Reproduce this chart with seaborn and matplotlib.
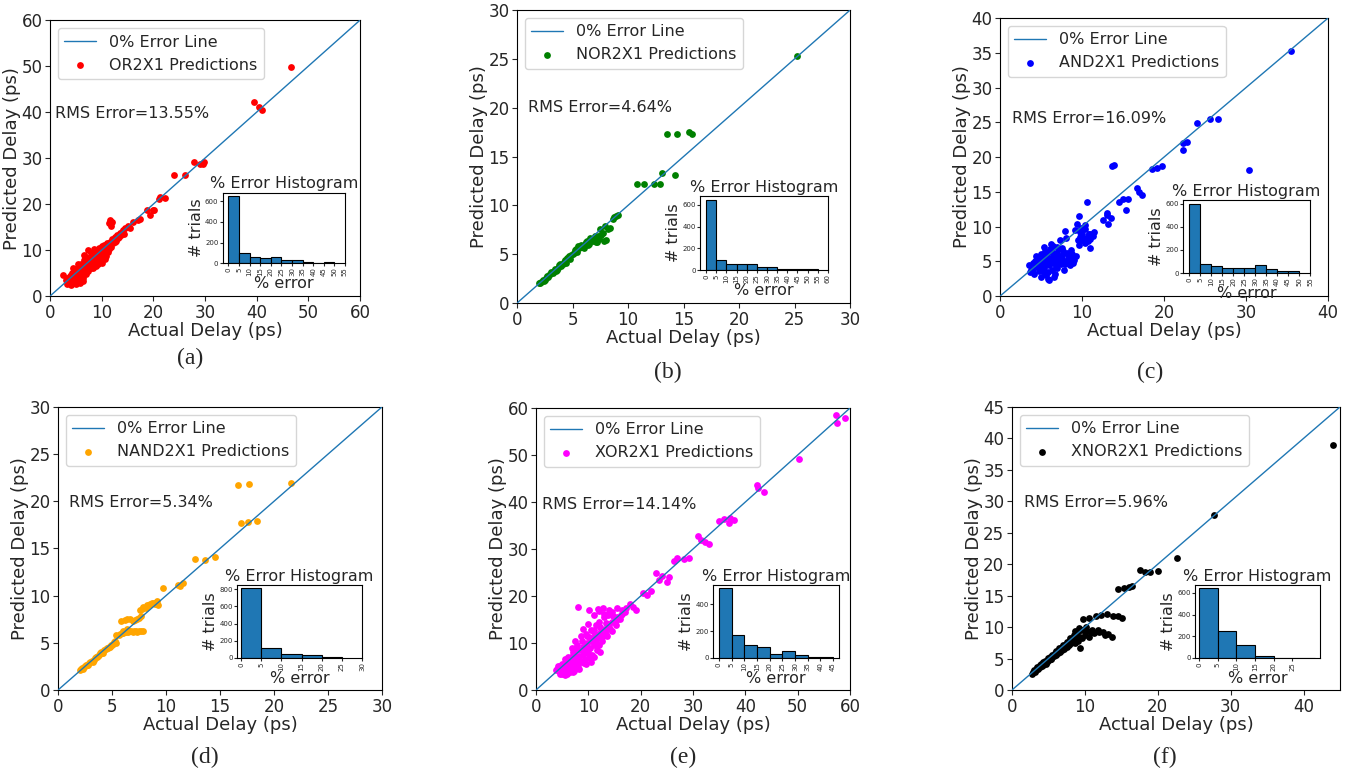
import numpy as np
import pandas as pd
import matplotlib
matplotlib.use("Agg")
import matplotlib.pyplot as plt
import seaborn as sns

sns.set_style("ticks")
plt.rcParams['font.family'] = ['DejaVu Sans']
plt.rcParams['axes.edgecolor'] = 'black'

# --- data ---
cells = ['OR2X1', 'NOR2X1', 'AND2X1', 'NAND2X1', 'XOR2X1', 'XNOR2X1']
panel_tags = ['(a)', '(b)', '(c)', '(d)', '(e)', '(f)']
point_colors = ['red', 'green', 'blue', 'orange', 'magenta', 'black']
rms_err = ['13.55', '4.64', '16.09', '5.34', '14.14', '5.96']
axis_max = [60, 30, 40, 30, 60, 45]
main_xticks = [range(0, 61, 10), range(0, 31, 5), range(0, 41, 10),
               range(0, 31, 5), range(0, 61, 10), range(0, 41, 10)]
main_yticks = [range(0, 61, 10), range(0, 31, 5), range(0, 41, 5),
               range(0, 31, 5), range(0, 61, 10), range(0, 46, 5)]

# (actual, predicted) delay in ps
or2x1_pts = [(2.6, 4.6), (3.0, 3.4), (3.2, 4.0), (3.5, 2.9), (3.8, 4.4), (4.0, 3.2), (4.2, 5.0), (4.4, 2.8),
             (4.5, 4.0), (4.8, 3.5), (5.0, 5.5), (5.0, 2.6), (5.3, 4.6), (5.5, 6.2), (5.6, 3.8), (5.8, 5.2),
             (6.0, 7.0), (6.0, 4.5), (6.3, 6.0), (6.5, 5.0), (6.6, 7.8), (6.8, 6.5), (7.0, 4.8), (7.0, 8.5),
             (7.2, 7.2), (7.4, 10.0), (7.5, 6.0), (7.8, 8.0), (8.0, 9.3), (8.0, 6.8), (8.3, 7.5), (8.5, 8.8),
             (8.6, 10.2), (8.8, 6.5), (9.0, 9.0), (9.2, 7.8), (9.4, 10.5), (9.5, 8.5), (9.8, 9.6), (10.0, 7.2),
             (10.0, 10.8), (10.3, 9.2), (10.5, 11.0), (10.6, 8.0), (10.8, 10.2), (11.0, 11.5), (11.2, 9.5),
             (11.5, 11.2), (11.8, 10.6), (12.0, 12.4), (12.2, 11.5), (12.5, 12.8), (12.8, 12.0), (13.0, 13.3),
             (13.3, 12.8), (13.6, 13.8), (14.0, 14.0), (14.3, 13.6), (14.6, 14.8), (15.0, 15.2), (15.5, 14.9),
             (16.0, 16.2), (4.5, 6.0), (5.5, 7.0), (6.5, 9.0), (3.6, 3.6), (4.2, 3.8), (5.4, 5.0), (6.2, 5.6),
             (7.6, 7.0), (8.8, 8.2), (9.6, 9.0), (3.3, 2.6), (3.7, 3.2), (4.1, 4.6), (4.6, 3.0), (4.9, 4.3),
             (5.2, 3.3), (5.7, 4.4), (5.9, 6.6), (6.1, 5.3), (6.4, 4.0), (6.7, 5.6), (6.9, 7.2), (7.1, 6.2),
             (7.3, 5.4), (7.7, 7.4), (7.9, 6.2), (8.1, 8.4), (8.4, 6.0), (8.7, 7.8), (8.9, 9.6), (9.1, 8.2),
             (9.3, 7.0), (9.7, 8.0), (9.9, 10.2), (10.2, 8.6), (10.4, 10.0), (10.7, 9.4), (10.9, 8.8),
             (11.1, 10.8), (11.4, 10.2), (11.7, 11.8), (12.3, 12.0), (12.6, 11.8), (13.1, 12.7), (13.8, 13.2),
             (14.2, 14.4), (5.8, 2.9), (6.3, 3.3), (4.0, 2.5), (4.7, 5.6),
             (11.6, 16.5), (11.4, 15.8), (11.8, 15.2), (12.0, 16.0),
             (17.0, 16.5), (17.5, 16.8), (18.7, 18.7), (19.3, 17.6), (19.9, 18.7), (20.2, 18.8), (21.3, 21.6),
             (22.2, 21.3), (21.0, 21.2), (24.0, 26.3), (26.1, 26.3), (27.9, 29.2), (29.0, 28.8), (29.8, 29.2),
             (29.6, 28.7), (39.5, 42.1), (40.4, 41.2), (41.0, 40.4), (46.6, 49.8)]
nor2x1_pts = [(2.0, 2.1), (2.2, 2.2), (2.4, 2.3), (2.6, 2.6), (2.8, 2.7), (3.0, 3.0), (3.2, 3.1), (3.4, 3.5),
              (3.6, 3.4), (3.8, 3.9), (4.0, 3.8), (4.2, 4.2), (4.4, 4.1), (4.6, 4.6), (4.8, 4.5), (5.0, 5.0),
              (5.2, 5.4), (5.4, 5.2), (5.6, 5.6), (5.8, 5.9), (6.0, 5.6), (6.2, 6.2), (6.4, 5.9), (6.6, 6.7),
              (6.8, 6.4), (7.0, 6.9), (7.2, 6.2), (7.4, 6.6), (7.6, 7.0), (7.8, 6.4), (7.5, 7.6), (7.9, 7.9),
              (8.2, 7.6), (8.7, 8.8), (9.1, 9.0), (8.9, 8.9), (4.5, 4.6), (5.5, 5.8), (3.5, 3.3), (6.5, 6.3),
              (7.1, 6.2), (2.1, 2.0), (2.3, 2.4), (2.5, 2.4), (2.7, 2.8), (2.9, 2.9), (3.1, 3.2), (3.3, 3.3),
              (3.7, 3.6), (3.9, 4.0), (4.1, 4.0), (4.3, 4.4), (4.7, 4.8), (4.9, 4.9), (5.1, 5.1), (5.3, 5.5),
              (5.7, 5.7), (5.9, 5.7), (6.1, 6.0), (6.3, 6.4), (6.5, 6.0), (6.7, 6.5), (6.9, 6.6), (7.3, 6.9),
              (7.7, 7.2), (8.0, 6.5), (8.4, 7.7), (8.6, 8.6),
              (10.8, 12.2), (11.4, 12.2), (12.3, 12.2), (12.9, 12.2), (13.1, 13.3), (14.2, 13.1),
              (13.5, 17.3), (14.4, 17.3), (15.5, 17.5), (15.8, 17.3), (25.2, 25.3)]
and2x1_pts = [(3.5, 4.5), (3.8, 3.8), (4.0, 4.8), (4.2, 3.2), (4.5, 5.5), (4.6, 4.2), (4.8, 3.6), (5.0, 6.0),
              (5.0, 2.8), (5.2, 5.0), (5.4, 4.0), (5.5, 6.5), (5.6, 3.0), (5.8, 5.5), (6.0, 2.3), (6.0, 4.5),
              (6.1, 6.8), (6.3, 3.8), (6.4, 5.8), (6.5, 4.8), (6.7, 3.2), (6.8, 6.2), (7.0, 5.2), (7.0, 4.0),
              (7.2, 6.8), (7.4, 4.6), (7.5, 5.8), (7.8, 3.8), (8.0, 5.0), (8.2, 6.2), (8.5, 4.5), (8.6, 5.6),
              (8.8, 6.0), (9.0, 5.2), (5.3, 5.5), (6.2, 7.5), (7.3, 8.1), (8.1, 8.3), (7.5, 6.9), (8.3, 6.0),
              (9.5, 8.1), (9.6, 7.3), (10.2, 8.0), (10.5, 8.4), (11.0, 8.2), (11.0, 6.9), (10.0, 9.0), (9.2, 9.5),
              (9.8, 9.2), (10.4, 9.6), (11.2, 9.0), (9.4, 10.3), (9.6, 11.5), (10.6, 13.6), (7.0, 6.0), (6.5, 7.2),
              (3.6, 3.4), (4.0, 3.9), (4.3, 5.0), (4.7, 4.6), (4.9, 5.2), (5.1, 4.3), (5.3, 3.5), (5.6, 4.8),
              (5.7, 6.0), (5.9, 3.5), (6.1, 5.2), (6.3, 6.3), (6.6, 5.5), (6.8, 4.2), (6.9, 7.0), (7.1, 4.8),
              (7.3, 5.8), (7.6, 5.2), (7.7, 6.5), (7.9, 4.6), (8.4, 5.4), (8.7, 6.6), (8.9, 4.8), (9.3, 5.8),
              (9.7, 8.5), (10.0, 8.0), (10.3, 7.6), (10.7, 7.9), (10.9, 9.0), (11.3, 8.6), (11.5, 9.2),
              (9.9, 9.8), (10.3, 10.2), (10.8, 8.9), (6.6, 2.8), (5.8, 2.5), (5.4, 7.0), (4.4, 5.8), (7.9, 9.4),
              (8.3, 5.3),
              (12.6, 11.0), (13.0, 11.7), (13.2, 10.3), (13.5, 11.2), (13.0, 12.0), (15.0, 13.9), (15.4, 12.4),
              (14.5, 13.6), (15.6, 14.0), (16.7, 15.5), (17.3, 14.6), (17.0, 15.0), (13.7, 18.7), (13.9, 18.9),
              (18.5, 18.3), (19.1, 18.4), (19.7, 18.7), (22.3, 22.0), (22.8, 22.1), (22.3, 21.0), (24.0, 24.9),
              (25.6, 25.5), (26.6, 25.5), (30.4, 18.1), (35.5, 35.3)]
nand2x1_pts = [(2.0, 2.1), (2.2, 2.3), (2.4, 2.4), (2.6, 2.6), (2.8, 2.7), (3.0, 3.0), (3.2, 3.0), (3.4, 3.4),
               (3.6, 3.5), (3.8, 3.7), (4.0, 4.0), (4.2, 3.9), (4.4, 4.3), (4.6, 4.4), (4.8, 4.6), (5.0, 4.8),
               (5.2, 5.1), (5.4, 5.0), (5.4, 5.8), (5.7, 5.9), (6.0, 6.0), (6.3, 6.1), (6.6, 6.2), (6.9, 6.1),
               (7.2, 6.2), (7.5, 6.3), (7.9, 6.2), (6.0, 6.3), (6.4, 6.5), (5.8, 7.3), (6.2, 7.4), (6.7, 7.5),
               (7.1, 7.4), (7.5, 7.6), (7.7, 7.8), (7.6, 8.5), (7.9, 8.8), (8.2, 9.0), (8.5, 9.1), (8.9, 9.2),
               (9.2, 9.4), (9.3, 9.0), (2.1, 2.2), (2.3, 2.2), (2.5, 2.5), (2.7, 2.6), (2.9, 2.9), (3.1, 3.1),
               (3.3, 3.2), (3.5, 3.5), (3.7, 3.6), (3.9, 3.9), (4.1, 3.9), (4.3, 4.2), (4.5, 4.4), (4.7, 4.6),
               (4.9, 4.8), (5.1, 4.9), (5.3, 5.2), (5.6, 5.8), (5.9, 6.0), (6.1, 6.1), (6.5, 6.1), (6.8, 6.2),
               (7.0, 6.3), (7.3, 6.1), (7.7, 6.2), (6.4, 7.5), (6.9, 7.3), (7.3, 7.5), (7.8, 8.6), (8.1, 8.7),
               (8.4, 9.0), (8.7, 9.2), (9.0, 9.1),
               (9.7, 10.8), (11.1, 11.1), (11.6, 11.3), (11.3, 11.0), (12.7, 13.9),
               (13.6, 13.8), (14.5, 14.1), (16.9, 17.7), (17.6, 17.8), (18.4, 17.9), (16.7, 21.7), (17.7, 21.8),
               (21.6, 21.9)]
xor2x1_pts = [(4.0, 4.5), (4.5, 3.5), (5.0, 5.5), (5.2, 4.2), (5.5, 6.5), (5.8, 3.8), (6.0, 5.0), (6.2, 7.0),
              (6.5, 4.5), (6.8, 6.0), (7.0, 8.0), (7.2, 5.2), (7.5, 7.0), (7.8, 9.5), (8.0, 4.8), (8.2, 6.5),
              (8.5, 8.5), (8.8, 10.5), (9.0, 7.5), (9.2, 5.8), (9.5, 9.5), (9.8, 11.5), (10.0, 8.5), (10.2, 6.8),
              (10.5, 10.5), (10.8, 12.5), (11.0, 9.5), (11.3, 11.5), (11.6, 8.5), (12.0, 12.0), (12.3, 13.5),
              (12.6, 10.5), (13.0, 12.5), (13.3, 14.2), (13.6, 11.5), (14.0, 13.5), (14.5, 12.5), (15.0, 14.5),
              (15.4, 15.6), (16.0, 15.0), (16.5, 16.2), (9.0, 13.0), (10.0, 14.0), (11.0, 12.8), (5.5, 3.2),
              (6.5, 3.8), (7.2, 4.0), (4.5, 5.0), (3.8, 4.2), (4.2, 5.2), (4.8, 4.0), (5.3, 5.0), (5.6, 4.6),
              (5.9, 6.0), (6.3, 5.5), (6.6, 6.8), (6.9, 4.8), (7.1, 7.5), (7.4, 6.2), (7.7, 5.5), (7.9, 8.5),
              (8.3, 7.2), (8.6, 6.0), (8.9, 9.2), (9.1, 8.2), (9.4, 6.5), (9.7, 10.0), (9.9, 7.8), (10.1, 11.2),
              (10.4, 9.0), (10.7, 7.5), (10.9, 10.8), (11.2, 12.0), (11.5, 10.0), (11.8, 11.0), (12.1, 9.5),
              (12.4, 12.5), (12.8, 11.5), (13.1, 13.0), (13.4, 12.0), (13.8, 14.0), (14.2, 13.0), (14.6, 14.5),
              (15.2, 13.8), (15.7, 15.2), (16.2, 16.0), (17.0, 16.5), (6.0, 3.5), (7.0, 3.8), (8.3, 4.5),
              (9.5, 5.5), (10.5, 6.0), (11.0, 7.0), (12.2, 8.0), (12.0, 14.5), (13.0, 15.5), (11.5, 13.8),
              (10.5, 12.8), (9.6, 12.0), (14.5, 16.5), (15.5, 17.5), (16.5, 17.0), (11.8, 17.3), (12.8, 17.5),
              (13.8, 16.0), (4.3, 4.0), (5.0, 3.3), (6.8, 9.0), (7.5, 10.5), (8.5, 11.5),
              (8.0, 17.6), (10.2, 17.1), (11.0, 16.0),
              (12.0, 16.8), (13.0, 16.2), (14.0, 17.0), (14.7, 15.8), (17.2, 17.4), (18.0, 18.2), (19.1, 17.1),
              (18.5, 17.6), (20.4, 20.6), (21.2, 20.3), (22.0, 21.0), (22.9, 24.9), (23.5, 23.5), (24.0, 24.2),
              (25.0, 23.0), (25.5, 24.0), (26.4, 27.4), (27.0, 28.1), (28.2, 27.9), (29.3, 28.0), (30.9, 32.8),
              (31.5, 32.0), (32.2, 31.5), (33.1, 31.0), (35.0, 36.0), (36.0, 36.4), (37.0, 36.6), (37.9, 36.2),
              (36.8, 35.5), (42.3, 43.6), (42.5, 43.0), (43.5, 42.1), (50.3, 49.2), (57.4, 58.6), (59.1, 57.9),
              (57.5, 56.8)]
xnor2x1_pts = [(2.8, 2.6), (3.0, 3.1), (3.3, 3.2), (3.5, 3.6), (3.8, 3.7), (4.0, 4.1), (4.3, 4.0), (4.5, 4.6),
               (4.8, 4.5), (5.0, 5.1), (5.3, 4.9), (5.5, 5.6), (5.8, 5.4), (6.0, 6.2), (6.3, 5.9), (6.5, 6.6),
               (6.8, 6.3), (7.0, 7.2), (7.3, 6.8), (7.5, 7.7), (7.8, 7.2), (8.0, 8.3), (8.3, 7.6), (8.5, 8.8),
               (8.8, 8.0), (9.0, 9.3), (9.3, 8.4), (9.5, 9.6), (9.9, 9.5), (10.3, 9.4), (10.8, 9.2), (11.3, 9.0),
               (12.0, 9.2), (12.8, 8.7), (13.7, 8.4), (9.3, 6.6), (9.8, 11.3), (10.5, 11.5), (11.5, 11.8),
               (12.2, 12.0), (13.0, 12.1), (13.8, 11.8), (14.6, 11.8), (15.1, 11.5), (6.2, 6.0), (7.2, 7.0),
               (5.1, 4.8), (4.2, 4.4), (2.9, 2.9), (3.1, 2.8), (3.4, 3.5), (3.6, 3.3), (3.9, 3.9), (4.1, 3.8),
               (4.4, 4.3), (4.6, 4.2), (4.9, 4.8), (5.2, 5.3), (5.4, 5.0), (5.6, 5.4), (5.9, 5.9), (6.1, 5.6),
               (6.4, 6.3), (6.6, 6.0), (6.9, 6.9), (7.1, 6.5), (7.4, 7.3), (7.6, 6.9), (7.9, 7.8), (8.1, 7.4),
               (8.4, 8.1), (8.6, 7.5), (8.9, 8.6), (9.1, 7.8), (9.6, 8.2), (10.0, 8.7), (10.6, 8.4), (11.0, 9.5),
               (11.8, 9.6), (12.5, 9.2), (13.2, 8.9), (9.2, 9.8), (8.7, 9.4), (10.2, 10.0),
               (14.6, 16.0), (15.3, 16.2), (16.0, 16.4), (16.5, 16.6), (17.6, 19.0),
               (18.2, 18.7), (19.0, 18.8), (20.1, 18.9), (22.6, 21.0), (27.7, 27.9), (44.1, 39.0)]
all_pts = [or2x1_pts, nor2x1_pts, and2x1_pts, nand2x1_pts, xor2x1_pts, xnor2x1_pts]

# % error histograms (bin edges and counts)
hist_edges = [list(range(0, 51, 5)), list(range(0, 56, 5)), list(range(0, 51, 5)),
              list(range(0, 26, 5)), list(range(0, 46, 5)), [0, 5, 10, 15, 20, 25, 31]]
hist_counts = [[650, 95, 60, 55, 60, 30, 30, 12, 5, 10],
               [650, 95, 60, 55, 55, 30, 30, 10, 5, 5, 5],
               [600, 80, 65, 40, 40, 40, 70, 35, 15, 15],
               [810, 115, 45, 35, 10],
               [520, 175, 100, 80, 30, 50, 22, 10, 5],
               [640, 245, 115, 15, 3, 3]]
hist_xticks = [range(0, 56, 5), range(0, 61, 5), range(0, 56, 5),
               range(0, 31, 5), range(0, 46, 5), range(0, 26, 5)]
hist_yticks = [range(0, 601, 200), range(0, 601, 200), range(0, 601, 200),
               range(0, 801, 200), range(0, 401, 200), range(0, 601, 200)]
hist_xlim = [(-2.75, 55), (-3, 60), (-2.75, 55), (-1.0, 30), (-2.3, 47.3), (-1.1, 32.4)]

# layout (figure fractions)
main_pos = [[0.0369, 0.618, 0.2286, 0.356], [0.3813, 0.609, 0.2456, 0.378], [0.7375, 0.618, 0.2419, 0.3587],
            [0.0428, 0.1097, 0.2389, 0.3652], [0.3953, 0.1097, 0.2316, 0.3639], [0.7463, 0.1097, 0.2419, 0.3652]]
inset_pos = [[0.1642, 0.6603, 0.0902, 0.0911], [0.5162, 0.6516, 0.0944, 0.0955], [0.8724, 0.6477, 0.0937, 0.0942],
             [0.1748, 0.151, 0.0922, 0.0942], [0.5258, 0.151, 0.0929, 0.0942], [0.8813, 0.151, 0.0922, 0.0942]]
rms_pos = [(0.016, 0.663), (0.033, 0.666), (0.037, 0.64), (0.034, 0.664), (0.019, 0.656), (0.037, 0.661)]
tag_pos = [(0.140, 0.538), (0.4926, 0.520), (0.848, 0.520), (0.151, 0.023), (0.5037, 0.023), (0.859, 0.023)]

fig = plt.figure(figsize=(13.56, 7.75), dpi=100)

for i, cell in enumerate(cells):
    pts = pd.DataFrame(all_pts[i], columns=['actual', 'predicted'])
    lim = axis_max[i]
    ax = fig.add_axes(main_pos[i])
    sns.lineplot(x=[0, lim], y=[0, lim], ax=ax, color='#1f77b4', linewidth=1,
                 label='0% Error Line', zorder=3)
    sns.scatterplot(data=pts, x='actual', y='predicted', ax=ax, color=point_colors[i],
                    s=24, linewidth=0, label=f'{cell} Predictions', zorder=2)
    ax.set_xlim(0, lim)
    ax.set_ylim(0, lim)
    ax.set_xticks(list(main_xticks[i]))
    ax.set_yticks(list(main_yticks[i]))
    ax.tick_params(labelsize=12, length=3.5, pad=2)
    ax.set_xlabel('Actual Delay (ps)', fontsize=13, labelpad=0)
    ax.set_ylabel('Predicted Delay (ps)', fontsize=13, labelpad=0)
    ax.legend(loc='upper left', fontsize=11.5, handlelength=2, markerscale=1.0)
    ax.text(rms_pos[i][0], rms_pos[i][1], f'RMS Error={rms_err[i]}%', transform=ax.transAxes,
            fontsize=11.5, va='center', ha='left')
    for sp in ax.spines.values():
        sp.set_linewidth(0.8)

    # inset histogram
    edges = hist_edges[i]
    centers = [(a + b) / 2 for a, b in zip(edges[:-1], edges[1:])]
    ins = fig.add_axes(inset_pos[i])
    sns.histplot(x=centers, weights=hist_counts[i], bins=edges, ax=ins, color='#1f77b4',
                 alpha=1, edgecolor='black', linewidth=0.8)
    ins.set_xlim(*hist_xlim[i])
    ins.set_xticks(list(hist_xticks[i]))
    ins.set_yticks(list(hist_yticks[i]))
    ins.tick_params(axis='x', labelrotation=90, labelsize=5, length=2, pad=1)
    ins.tick_params(axis='y', labelsize=5, length=2, pad=1)
    ins.set_title('% Error Histogram', fontsize=11.5, pad=3)
    ins.set_xlabel('% error', fontsize=11.5, labelpad=0)
    ins.set_ylabel('# trials', fontsize=11.5, labelpad=1)
    for sp in ins.spines.values():
        sp.set_linewidth(0.8)

    fig.text(tag_pos[i][0], tag_pos[i][1], panel_tags[i], fontsize=17,
             family=['Liberation Serif', 'DejaVu Serif'], ha='center', va='center')

fig.savefig('out.png', dpi=100)
